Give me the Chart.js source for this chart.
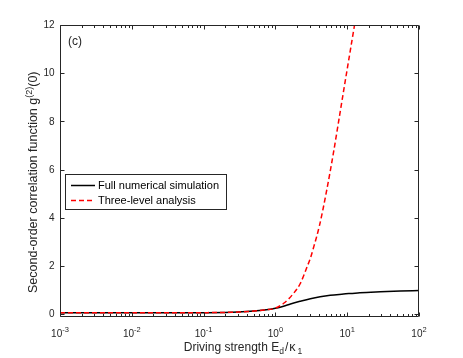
<!DOCTYPE html>
<html>
<head>
<meta charset="utf-8">
<script src="https://cdn.jsdelivr.net/npm/chart.js@4.4.1/dist/chart.umd.min.js"></script>
<style>
html,body{margin:0;padding:0;background:#fff;}
#wrap{width:463px;height:358px;}
</style>
</head>
<body>
<div id="wrap"><canvas id="c" width="463" height="358"></canvas></div>
<script>
// ---- data ----
const fullX = [0.001, 0.01, 0.05, 0.1, 0.2, 0.3, 0.5, 0.7, 1, 1.3, 1.62, 2.2, 3.07, 4.2, 5.8, 8.9, 15, 29, 55, 100];
const fullY = [0.055, 0.055, 0.055, 0.06, 0.07, 0.085, 0.125, 0.17, 0.245, 0.33, 0.42, 0.53, 0.64, 0.72, 0.78, 0.83, 0.89, 0.93, 0.96, 0.98];
const threeX = [0.001, 0.01, 0.05, 0.1, 0.2, 0.3, 0.5, 0.7, 1, 1.305, 1.71, 2.23, 2.76, 3.07, 3.42, 4.1, 5.13, 6.43, 8.85, 12.32, 15.3];
const threeY = [0.055, 0.055, 0.055, 0.06, 0.07, 0.085, 0.125, 0.17, 0.25, 0.45, 0.79, 1.28, 1.96, 2.32, 2.79, 3.66, 5.07, 6.69, 9.21, 11.79, 13.46];
const seriesNames = ['Full numerical simulation', 'Three-level analysis'];
const xTickExps = [-3, -2, -1, 0, 1, 2];
const yTicks = [0, 2, 4, 6, 8, 10, 12];
const panelLabel = '(c)';

const FONT = '"Liberation Sans", Arial, Helvetica, sans-serif';
const AX = '#262626';

function toPts(xs, ys){ return xs.map((v,i)=>({x:v, y:ys[i]})); }

function drawRich(ctx, parts, x, y){
  let cx = x;
  for (const p of parts){
    ctx.font = p.size + 'px ' + FONT;
    cx += (p.pre||0);
    ctx.fillText(p.t, cx, y + (p.dy||0));
    cx += ctx.measureText(p.t).width + (p.post||0);
  }
  return cx - x;
}
function richWidth(ctx, parts){
  let w = 0;
  for (const p of parts){ ctx.font = p.size + 'px ' + FONT; w += ctx.measureText(p.t).width + (p.pre||0) + (p.post||0); }
  return w;
}

const axesPlugin = {
  id: 'matlabAxes',
  afterDatasetsDraw(chart){
    const {ctx, chartArea:a, scales:{x, y}} = chart;
    ctx.save();
    ctx.strokeStyle = AX;
    ctx.fillStyle = AX;
    ctx.lineWidth = 1;
    const L = Math.round(a.left)+0.5, R = Math.round(a.right)-0.5, T = Math.round(a.top)+0.5, B = Math.round(a.bottom)-0.5;
    ctx.beginPath();
    ctx.rect(L, T, R-L, B-T);
    ctx.stroke();
    ctx.beginPath();
    for (const v of yTicks){
      const py = Math.round(y.getPixelForValue(v))+0.5;
      ctx.moveTo(L, py); ctx.lineTo(L+4, py);
      ctx.moveTo(R, py); ctx.lineTo(R-4, py);
    }
    for (const e of xTickExps){
      const px = Math.round(x.getPixelForValue(Math.pow(10,e)))+0.5;
      ctx.moveTo(px, B); ctx.lineTo(px, B-4);
      ctx.moveTo(px, T); ctx.lineTo(px, T+4);
      if (e < xTickExps[xTickExps.length-1]){
        for (let m=2; m<=9; m++){
          const qx = Math.round(x.getPixelForValue(m*Math.pow(10,e)))+0.5;
          ctx.moveTo(qx, B); ctx.lineTo(qx, B-2.5);
          ctx.moveTo(qx, T); ctx.lineTo(qx, T+2.5);
        }
      }
    }
    ctx.stroke();
    // y tick labels
    ctx.font = '10px ' + FONT;
    ctx.textAlign = 'right';
    ctx.textBaseline = 'middle';
    for (const v of yTicks){
      ctx.fillText(String(v), a.left-5.5, y.getPixelForValue(v)+0.5);
    }
    // x tick labels
    ctx.textAlign = 'left';
    ctx.textBaseline = 'alphabetic';
    for (const e of xTickExps){
      const parts = [{t:'10', size:10}, {t:String(e), size:7.5, dy:-4.5}];
      const w = richWidth(ctx, parts);
      const px = x.getPixelForValue(Math.pow(10,e));
      drawRich(ctx, parts, px - w/2, 336.5);
    }
    // x axis title
    const xt = [{t:'Driving strength E', size:12}, {t:'d', size:8.5, dy:3}, {t:'/', size:12, pre:1, post:1}, {t:'\u03ba', size:12.5}, {t:'1', size:8.5, dy:3, pre:2}];
    const xw = richWidth(ctx, xt);
    drawRich(ctx, xt, 243 - xw/2, 350.5);
    // y axis title
    ctx.save();
    ctx.translate(37, 293);
    ctx.rotate(-Math.PI/2);
    const yt = [{t:'Second-order correlation function g', size:12.5}, {t:'(2)', size:9, dy:-5.5}, {t:'(0)', size:12.5}];
    drawRich(ctx, yt, 0, 0);
    ctx.restore();
    // panel label
    ctx.font = '12px ' + FONT;
    ctx.fillText(panelLabel, 68, 44.5);
    // legend
    const lx = 65.5, ly = 174.5, lw = 161, lh = 35;
    ctx.fillStyle = '#fff';
    ctx.fillRect(lx, ly, lw, lh);
    ctx.strokeStyle = AX;
    ctx.lineWidth = 1;
    ctx.strokeRect(lx, ly, lw, lh);
    const ds = chart.data.datasets;
    const rows = [185.5, 200.5];
    for (let i=0;i<2;i++){
      ctx.beginPath();
      ctx.strokeStyle = ds[i].borderColor;
      ctx.lineWidth = ds[i].borderWidth;
      ctx.setLineDash(ds[i].borderDash || []);
      ctx.moveTo(71, rows[i]); ctx.lineTo(95, rows[i]);
      ctx.stroke();
      ctx.setLineDash([]);
      ctx.fillStyle = '#000';
      ctx.font = '11px ' + FONT;
      ctx.textBaseline = 'middle';
      ctx.fillText(ds[i].label, 98, rows[i]);
    }
    ctx.restore();
  }
};

new Chart(document.getElementById('c'), {
  type: 'line',
  data: {
    datasets: [
      {label: seriesNames[0], data: toPts(fullX, fullY), borderColor: '#000000', borderWidth: 1.5,
       pointRadius: 0, cubicInterpolationMode: 'monotone', fill: false, order: 1},
      {label: seriesNames[1], data: toPts(threeX, threeY), borderColor: '#ff0000', borderWidth: 1.5,
       borderDash: [5, 3], pointRadius: 0, cubicInterpolationMode: 'monotone', fill: false, order: 0}
    ]
  },
  options: {
    responsive: false,
    animation: false,
    devicePixelRatio: 1,
    layout: {padding: {left: 60, right: 44, top: 25, bottom: 41}},
    plugins: {legend: {display: false}, tooltip: {enabled: false}},
    scales: {
      x: {type: 'logarithmic', min: 0.001, max: 100, display: false},
      y: {type: 'linear', min: -0.12, max: 12, display: false}
    },
    events: []
  },
  plugins: [axesPlugin]
});
</script>
</body>
</html>
